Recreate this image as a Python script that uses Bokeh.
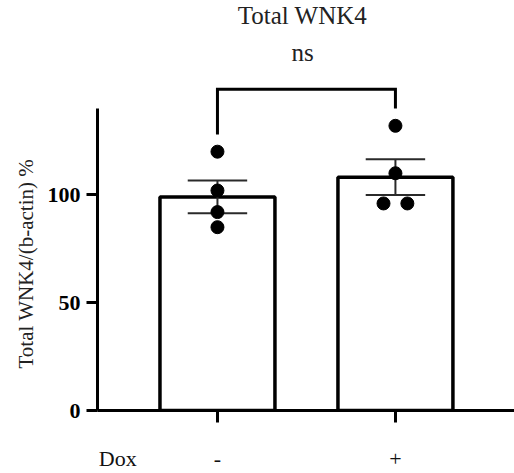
from bokeh.plotting import figure
from bokeh.models import Range1d, FixedTicker, Label, ColumnDataSource, LinearAxis, Title
from bokeh.embed import file_html
from bokeh.resources import INLINE

# ---- data ----
groups = ["-", "+"]
group_pos = [0, 1]
means = [99.0, 108.2]
sems = [7.6, 8.3]
points_minus = [120, 102, 92, 85]
points_plus = [132, 110, 96, 96]
jitter_minus = [0, 0, 0, 0]
jitter_plus = [0, 0, -0.067, 0.067]
yticks = [0, 50, 100]
y_axis_max = 140
bracket_top = 149
bracket_left_end = 128
bracket_right_end = 140
title_text = "Total WNK4"
sig_text = "ns"
y_label = "Total WNK4/(b-actin) %"
x_label = "Dox"
x_label_pos = -0.56

FONT = "Liberation Serif"

p = figure(width=514, height=473, output_backend="svg", toolbar_location=None,
           x_range=Range1d(-0.674, 1.669), y_range=Range1d(0, 190.1),
           min_border_left=97, min_border_right=0, min_border_top=0,
           min_border_bottom=63)
p.xgrid.visible = False
p.ygrid.visible = False
p.outline_line_color = None
p.background_fill_color = "white"
p.border_fill_color = "white"

# bars
bars = ColumnDataSource(dict(x=group_pos, top=means))
p.vbar(x="x", top="top", width=0.646, bottom=0, source=bars,
       fill_color="white", line_color="black", line_width=3.5)

# error bars
lo = [m - s for m, s in zip(means, sems)]
hi = [m + s for m, s in zip(means, sems)]
cap = 0.167
p.segment(x0=group_pos, y0=lo, x1=group_pos, y1=hi, line_color="#2a2a2a", line_width=2)
p.segment(x0=[x - cap for x in group_pos], y0=hi, x1=[x + cap for x in group_pos], y1=hi,
          line_color="#2a2a2a", line_width=2)
p.segment(x0=[x - cap for x in group_pos], y0=lo, x1=[x + cap for x in group_pos], y1=lo,
          line_color="#2a2a2a", line_width=2)

# points
px = [group_pos[0] + j for j in jitter_minus] + [group_pos[1] + j for j in jitter_plus]
py = points_minus + points_plus
p.scatter(x=px, y=py, size=13, fill_color="black", line_color="black")

# significance bracket
p.line(x=[group_pos[0], group_pos[0], group_pos[1], group_pos[1]],
       y=[bracket_left_end, bracket_top, bracket_top, bracket_right_end],
       line_color="black", line_width=3, line_join="miter")

# y axis
ya = p.yaxis[0]
ya.ticker = FixedTicker(ticks=yticks)
ya.bounds = (0, y_axis_max)
ya.minor_tick_line_color = None
ya.major_tick_out = 11
ya.major_tick_in = 0
ya.major_tick_line_width = 3
ya.axis_line_width = 3
ya.major_label_standoff = 6
ya.major_label_text_font = FONT
ya.major_label_text_font_style = "bold"
ya.major_label_text_font_size = "22px"
ya.major_label_text_color = "black"

p.add_layout(Title(text=y_label, align="left", offset=42, standoff=13,
                   text_font=FONT, text_font_style="normal",
                   text_font_size="21px", text_color="#222222"), "left")

# x axis: tick marks only
xa = p.xaxis[0]
xa.ticker = FixedTicker(ticks=group_pos)
xa.major_label_overrides = {g: "" for g in group_pos}
xa.major_label_text_font_size = "0px"
xa.major_label_standoff = 0
xa.minor_tick_line_color = None
xa.major_tick_out = 12
xa.major_tick_in = 0
xa.major_tick_line_width = 3
xa.axis_line_width = 3

# x axis labels row (Dox, -, +)
label_ticks = [x_label_pos] + group_pos
label_texts = [x_label] + groups
xb = LinearAxis(ticker=FixedTicker(ticks=label_ticks),
                major_label_overrides={t: s for t, s in zip(label_ticks, label_texts)},
                axis_line_color=None, major_tick_line_color=None,
                minor_tick_line_color=None, major_tick_out=0, major_tick_in=0,
                major_label_standoff=23, major_label_text_font=FONT,
                major_label_text_font_size="22px", major_label_text_color="#111111")
p.add_layout(xb, "below")

# title texts
p.add_layout(Label(x=0.478, y=183.0, text=title_text, text_font=FONT,
                   text_font_size="25px", text_align="center",
                   text_baseline="alphabetic", text_color="#222222"))
p.add_layout(Label(x=0.478, y=166.0, text=sig_text, text_font=FONT,
                   text_font_size="25px", text_align="center",
                   text_baseline="alphabetic", text_color="#222222"))

open("out.html", "w").write(file_html(p, INLINE))
